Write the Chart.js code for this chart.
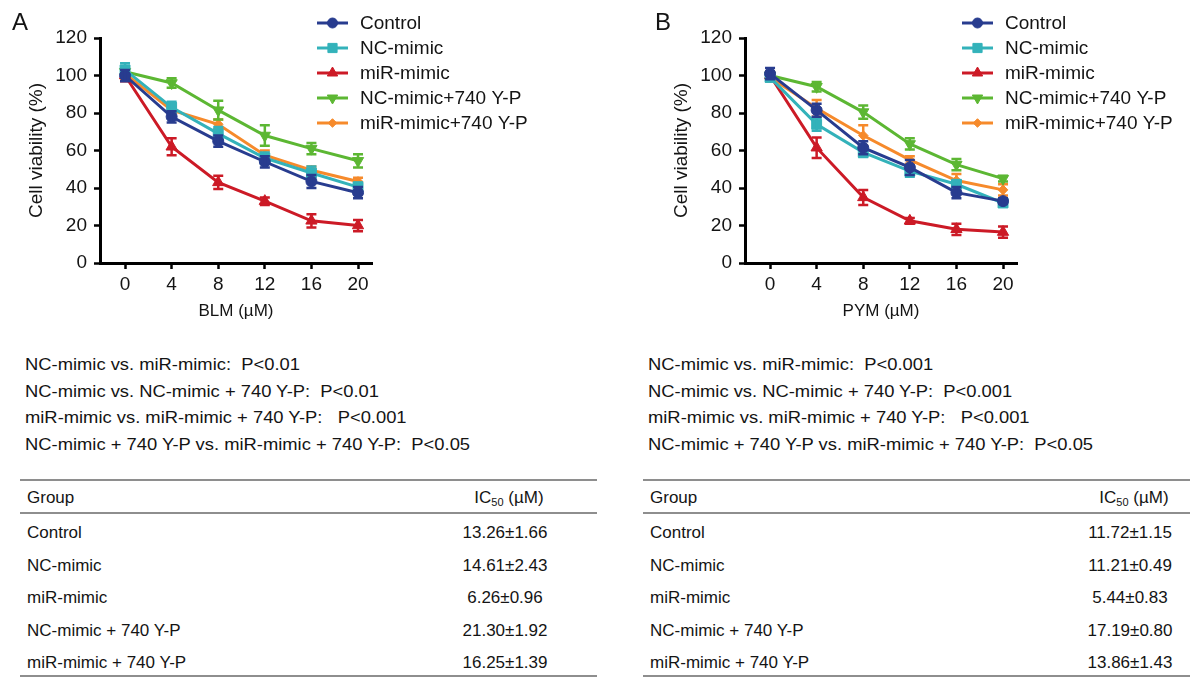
<!DOCTYPE html>
<html lang="en">
<head>
<meta charset="UTF-8">
<title>Cell viability - BLM / PYM</title>
<script src="https://cdn.jsdelivr.net/npm/chart.js"></script>
<style>
  body { margin: 0; background: #fff; font-family: "Liberation Sans", Arial, sans-serif; color: #141414; }
  .page { position: relative; width: 1190px; height: 677px; overflow: hidden; }
  canvas { position: absolute; top: 0; }
  .letter { position: absolute; top: 10px; font-size: 24px; line-height: 24px; }
  .pvals { position: absolute; top: 352px; font-size: 17px; line-height: 26.7px; white-space: pre;
           transform: scaleX(1.08); transform-origin: left top; }
  .tbl { position: absolute; top: 479px; height: 194px; border-top: 2px solid #8e8e8e; border-bottom: 2px solid #8e8e8e; }
  .hline { position: absolute; left: 0; right: 0; top: 31px; border-top: 2px solid #8e8e8e; }
  .row { position: absolute; left: 0; right: 0; height: 20px; line-height: 20px; font-size: 17px; white-space: pre; }
  .row .g { position: absolute; left: 7px; }
  .row .v { position: absolute; width: 130px; text-align: center; }
  sub { font-size: 11px; vertical-align: -3px; line-height: 0; }
</style>
</head>
<body>
<div class="page">
  <canvas id="chartA" width="600" height="330" style="left:0px"></canvas>
  <canvas id="chartB" width="545" height="330" style="left:645px"></canvas>
  <div class="letter" style="left:12px">A</div>
  <div class="letter" style="left:655px">B</div>
  <div class="pvals" id="pA" style="left:25px"></div>
  <div class="pvals" id="pB" style="left:648px"></div>
  <div class="tbl" id="tA" style="left:20px; width:577px"></div>
  <div class="tbl" id="tB" style="left:643px; width:547px"></div>
</div>

<script>
  // dose axis
  const doses = [0, 4, 8, 12, 16, 20];
  const doseTicks = [0, 4, 8, 12, 16, 20];
  const groups = ['Control', 'NC-mimic', 'miR-mimic', 'NC-mimic+740 Y-P', 'miR-mimic+740 Y-P'];

  // panel A - BLM, cell viability (%) mean and error
  const controlBLM = [100, 78, 65, 54, 43.5, 37.5];
  const ncMimicBLM = [103, 83, 69, 56, 48, 40.5];
  const mirMimicBLM = [100, 62, 43, 33, 22.5, 20];
  const ncYPBLM = [102, 96, 81.5, 68, 61, 54.5];
  const mirYPBLM = [101, 81.5, 74, 57.5, 49.5, 43.5];

  const controlBLMErr = [3, 3, 3, 3, 3.5, 3];
  const ncMimicBLMErr = [3.5, 3, 3.5, 3, 3.5, 2.5];
  const mirMimicBLMErr = [3, 4.5, 3.5, 2, 3.5, 3];
  const ncYPBLMErr = [2, 2.5, 5, 5.5, 3, 3.5];
  const mirYPBLMErr = [3, 2, 2.5, 2.5, 2, 2];

  // panel B - PYM
  const controlPYM = [101, 81.5, 61.5, 51, 37.5, 33];
  const ncMimicPYM = [99, 74, 59, 49, 42, 32];
  const mirMimicPYM = [100, 61.5, 35, 22.5, 18, 16.5];
  const ncYPPYM = [100, 94, 80.5, 63.5, 52.5, 45];
  const mirYPPYM = [99, 82.5, 68, 55, 44, 39];

  const controlPYMErr = [3, 3.5, 3.5, 4, 3, 1.5];
  const ncMimicPYMErr = [2, 3.5, 2.5, 3, 2, 1.5];
  const mirMimicPYMErr = [2, 5.5, 4, 1.5, 3, 3];
  const ncYPPYMErr = [2, 2.5, 3.5, 3, 3, 1.5];
  const mirYPPYMErr = [2, 4.5, 5.5, 2, 3.5, 3];

  // text blocks and IC50 table
  const pLinesBLM = [
    'NC-mimic vs. miR-mimic:  P<0.01',
    'NC-mimic vs. NC-mimic + 740 Y-P:  P<0.01',
    'miR-mimic vs. miR-mimic + 740 Y-P:   P<0.001',
    'NC-mimic + 740 Y-P vs. miR-mimic + 740 Y-P:  P<0.05'
  ];
  const pLinesPYM = [
    'NC-mimic vs. miR-mimic:  P<0.001',
    'NC-mimic vs. NC-mimic + 740 Y-P:  P<0.001',
    'miR-mimic vs. miR-mimic + 740 Y-P:   P<0.001',
    'NC-mimic + 740 Y-P vs. miR-mimic + 740 Y-P:  P<0.05'
  ];
  const tableGroups = ['Control', 'NC-mimic', 'miR-mimic', 'NC-mimic + 740 Y-P', 'miR-mimic + 740 Y-P'];
  const ic50BLM = ['13.26\u00b11.66', '14.61\u00b12.43', '6.26\u00b10.96', '21.30\u00b11.92', '16.25\u00b11.39'];
  const ic50PYM = ['11.72\u00b11.15', '11.21\u00b10.49', '5.44\u00b10.83', '17.19\u00b10.80', '13.86\u00b11.43'];

  // look of each group
  const colors = ['#283c8f', '#33b2ba', '#cc1a26', '#5cb733', '#f68a2b'];
  const shapes = ['circle', 'rect', 'triangle', 'triangle', 'rectRot'];
  const rotations = [0, 0, 0, 180, 0];
  const radii = [5.5, 7, 6.5, 6.5, 4.8];

  Chart.defaults.font.family = '"Liberation Sans", Arial, sans-serif';
  Chart.defaults.color = '#141414';

  // vertical error bars with caps, drawn after each dataset
  const errorBars = {
    id: 'errorBars',
    afterDatasetDraw(chart, args) {
      const ds = chart.data.datasets[args.index];
      const ctx = chart.ctx;
      const x = chart.scales.x, y = chart.scales.y;
      ctx.save();
      ctx.strokeStyle = ds.borderColor;
      ctx.lineWidth = 2.5;
      ds.data.forEach(function (p, i) {
        const e = ds.errors[i];
        const px = x.getPixelForValue(p.x);
        const top = y.getPixelForValue(p.y + e);
        const bot = y.getPixelForValue(p.y - e);
        ctx.beginPath();
        ctx.moveTo(px, top); ctx.lineTo(px, bot);
        ctx.moveTo(px - 5, top); ctx.lineTo(px + 5, top);
        ctx.moveTo(px - 5, bot); ctx.lineTo(px + 5, bot);
        ctx.stroke();
      });
      ctx.restore();
    }
  };

  // legend at the top right of the plot
  const sideLegend = {
    id: 'sideLegend',
    afterDraw(chart) {
      const ctx = chart.ctx;
      const x0 = chart.chartArea.right - 55;
      chart.data.datasets.forEach(function (ds, i) {
        const yy = 23 + i * 25;
        ctx.save();
        ctx.strokeStyle = ds.borderColor;
        ctx.fillStyle = ds.borderColor;
        ctx.lineWidth = 3;
        ctx.beginPath();
        ctx.moveTo(x0, yy); ctx.lineTo(x0 + 31, yy);
        ctx.stroke();
        ctx.lineWidth = 1;
        if (Chart.helpers && Chart.helpers.drawPoint) {
          Chart.helpers.drawPoint(ctx, { pointStyle: ds.pointStyle, rotation: ds.pointRotation, radius: ds.pointRadius - 0.5, borderWidth: 1 }, x0 + 15.5, yy);
        } else {
          ctx.beginPath(); ctx.arc(x0 + 15.5, yy, 5, 0, Math.PI * 2); ctx.fill();
        }
        ctx.fillStyle = '#141414';
        ctx.font = '19px "Liberation Sans", Arial, sans-serif';
        ctx.textBaseline = 'middle';
        ctx.fillText(ds.label, x0 + 43, yy + 1);
        ctx.restore();
      });
    }
  };

  function makeChart(id, xTitle, series, errs) {
    const canvas = document.getElementById(id);
    const datasets = series.map(function (vals, i) {
      return {
        label: groups[i],
        data: doses.map(function (d, j) { return { x: d, y: vals[j] }; }),
        errors: errs[i],
        borderColor: colors[i],
        backgroundColor: colors[i],
        pointBackgroundColor: colors[i],
        pointBorderColor: colors[i],
        pointBorderWidth: 1,
        borderWidth: 3,
        pointStyle: shapes[i],
        pointRotation: rotations[i],
        pointRadius: radii[i],
        tension: 0
      };
    });
    const axisGrid = { display: true, drawOnChartArea: false, drawTicks: true, tickLength: 6, tickWidth: 2.5, tickColor: '#000' };
    const axisBorder = { display: true, color: '#000', width: 3 };
    return new Chart(canvas, {
      type: 'line',
      data: { datasets: datasets },
      options: {
        responsive: false,
        animation: false,
        layout: { padding: { left: 0, top: 38, right: canvas.width - 372, bottom: 0 } },
        plugins: { legend: { display: false }, tooltip: { enabled: false } },
        scales: {
          x: {
            type: 'linear', min: -2.15, max: 21.2,
            afterBuildTicks: function (s) { s.ticks = doseTicks.map(function (v) { return { value: v }; }); },
            afterFit: function (s) { s.height = 67; },
            ticks: { font: { size: 19 }, color: '#141414', padding: 4, maxRotation: 0 },
            grid: axisGrid,
            border: axisBorder,
            title: { display: true, text: xTitle, font: { size: 17 }, color: '#141414', padding: { top: 0, bottom: 8 } }
          },
          y: {
            min: 0, max: 120,
            afterFit: function (s) { s.width = 100; },
            ticks: { stepSize: 20, font: { size: 19 }, color: '#141414', padding: 7 },
            grid: axisGrid,
            border: axisBorder,
            title: { display: true, text: 'Cell viability (%)', font: { size: 19 }, color: '#141414', padding: { top: 25, bottom: 0 } }
          }
        }
      },
      plugins: [errorBars, sideLegend]
    });
  }

  makeChart('chartA', 'BLM (\u00b5M)',
    [controlBLM, ncMimicBLM, mirMimicBLM, ncYPBLM, mirYPBLM],
    [controlBLMErr, ncMimicBLMErr, mirMimicBLMErr, ncYPBLMErr, mirYPBLMErr]);
  makeChart('chartB', 'PYM (\u00b5M)',
    [controlPYM, ncMimicPYM, mirMimicPYM, ncYPPYM, mirYPPYM],
    [controlPYMErr, ncMimicPYMErr, mirMimicPYMErr, ncYPPYMErr, mirYPPYMErr]);

  // p-value lines
  document.getElementById('pA').textContent = pLinesBLM.join('\n');
  document.getElementById('pB').textContent = pLinesPYM.join('\n');

  // IC50 tables
  function fillTable(id, values, valueLeft) {
    const t = document.getElementById(id);
    let html = '<div class="row" style="top:7px"><span class="g">Group</span>' +
      '<span class="v" style="left:' + (valueLeft + 4) + 'px">IC<sub>50</sub> (\u00b5M)</span></div>';
    html += '<div class="hline"></div>';
    const rowTops = [42, 74.5, 107, 139.5, 172];
    tableGroups.forEach(function (g, i) {
      html += '<div class="row" style="top:' + rowTops[i] + 'px"><span class="g">' + g + '</span>' +
        '<span class="v" style="left:' + valueLeft + 'px">' + values[i] + '</span></div>';
    });
    t.innerHTML = html;
  }
  fillTable('tA', ic50BLM, 420);
  fillTable('tB', ic50PYM, 422);
</script>
</body>
</html>
